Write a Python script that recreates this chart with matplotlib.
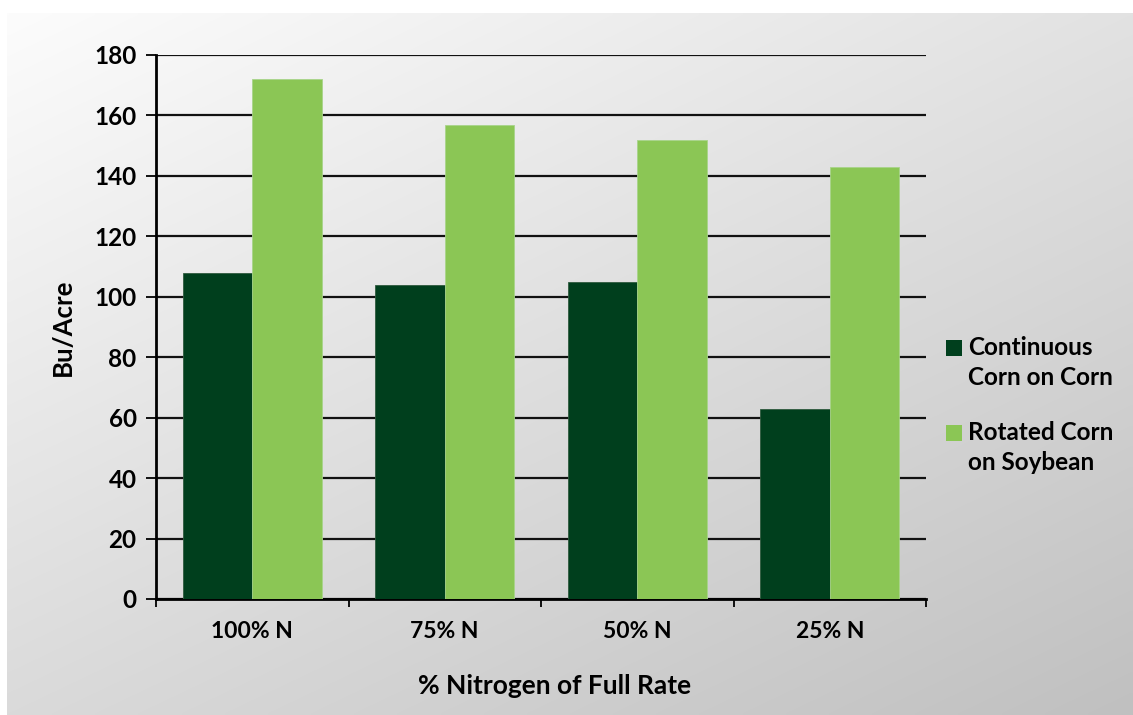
import numpy as np
import matplotlib.pyplot as plt
from matplotlib.patches import Rectangle
from matplotlib.ticker import FixedLocator

categories = ["100% N", "75% N", "50% N", "25% N"]
continuous = [108, 104, 105, 63]
rotated = [172, 157, 152, 143]
series_names = ["Continuous\nCorn on Corn", "Rotated Corn\non Soybean"]
y_ticks = [0, 20, 40, 60, 80, 100, 120, 140, 160, 180]

dark_green = "#003f1d"
light_green = "#8bc655"

plt.rcParams["font.family"] = ["Lato", "DejaVu Sans"]
plt.rcParams["font.weight"] = "bold"

fig = plt.figure(figsize=(11.33, 7.15), dpi=100)
fig.patch.set_facecolor("white")

# grey diagonal gradient panel behind the chart
bg = fig.add_axes([7 / 1133, 0, 1126 / 1133, 702 / 715], zorder=-1)
xx, yy = np.meshgrid(np.linspace(0, 1, 300), np.linspace(0, 1, 200))
shade = (252 - 26 * xx - 34 * yy) / 255.0
bg.imshow(np.dstack([shade, shade, shade]), aspect="auto", interpolation="bilinear")
bg.axis("off")

ax = fig.add_axes([156 / 1133, 1 - 599 / 715, 770 / 1133, 544 / 715])
ax.set_facecolor("none")

x = np.arange(len(categories))
width = 0.36
ax.bar(x - width / 2, continuous, width, color=dark_green, edgecolor="#2f5a3e",
       linewidth=0.6, zorder=3)
ax.bar(x + width / 2, rotated, width, color=light_green, edgecolor="#a8d48a",
       linewidth=0.6, zorder=3)

ax.set_xlim(-0.5, len(categories) - 0.5)
ax.set_ylim(0, 180)
ax.set_yticks(y_ticks)
ax.yaxis.grid(True, color="#111111", linewidth=1.6, zorder=1)
ax.set_axisbelow(True)

ax.set_xticks(x)
ax.set_xticklabels(categories)
ax.xaxis.set_minor_locator(FixedLocator(np.arange(-0.5, len(categories), 1.0)))
ax.tick_params(axis="x", which="major", length=0, pad=16, labelsize=16.5)
ax.tick_params(axis="x", which="minor", length=6, width=1.3, direction="out")
ax.tick_params(axis="y", length=7, width=1.3, pad=7, labelsize=17.5)

for side in ["top", "right"]:
    ax.spines[side].set_visible(False)
ax.spines["left"].set_linewidth(2)
ax.spines["bottom"].set_linewidth(2)

ax.set_ylabel("Bu/Acre", fontsize=18.5, fontweight="bold", labelpad=14)
ax.set_xlabel("% Nitrogen of Full Rate", fontsize=19, fontweight="bold")
ax.xaxis.set_label_coords(0.517, -0.138)

# legend: swatch lines up with the first line of each two-line label
legend_items = [(series_names[0], dark_green, 340), (series_names[1], light_green, 425)]
for label, colour, top_px in legend_items:
    fig.add_artist(Rectangle((946 / 1133, 1 - (top_px + 16) / 715), 16 / 1133, 16 / 715,
                             transform=fig.transFigure, facecolor=colour,
                             edgecolor="none"))
    fig.text(968 / 1133, 1 - (top_px - 4) / 715, label, fontsize=17.5,
             fontweight="bold", va="top", ha="left", linespacing=1.35)

fig.savefig("out.png", dpi=100)
